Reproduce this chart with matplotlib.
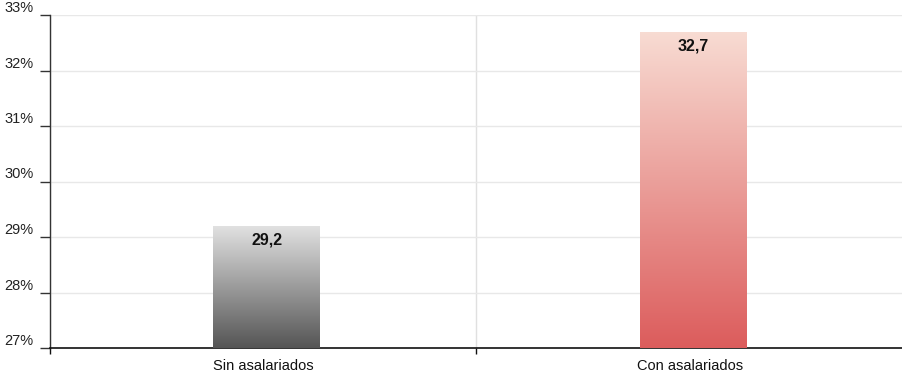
import numpy as np
import matplotlib
matplotlib.use("Agg")
import matplotlib.pyplot as plt
from matplotlib.colors import LinearSegmentedColormap

categories = ["Sin asalariados", "Con asalariados"]
values = [29.2, 32.7]
value_labels = ["29,2", "32,7"]
y_ticks = [27, 28, 29, 30, 31, 32, 33]
y_tick_labels = ["27%", "28%", "29%", "30%", "31%", "32%", "33%"]

# gradient colours per bar: (bottom, top)
gradients = [("#555555", "#e2e2e2"), ("#dc5c5c", "#f8dcd3")]

plt.rcParams["font.family"] = ["Liberation Sans", "DejaVu Sans"]

fig = plt.figure(figsize=(9.03, 3.81), dpi=100)
ax = fig.add_axes([50 / 903, 33 / 381, 853 / 903, 333 / 381])

ymin, ymax = y_ticks[0], y_ticks[-1]
ax.set_ylim(ymin, ymax)
ax.set_xlim(-0.5, len(categories) - 0.5)

bar_width = 0.25
x = np.arange(len(categories))
bars = ax.bar(x + 0.008, np.array(values) - ymin, bottom=ymin, width=bar_width,
              color="none", edgecolor="none", zorder=3)

for bar, (c_bot, c_top), lab in zip(bars, gradients, value_labels):
    x0 = bar.get_x()
    x1 = x0 + bar.get_width()
    y0 = bar.get_y()
    y1 = y0 + bar.get_height()
    cmap = LinearSegmentedColormap.from_list("g", [c_bot, c_top])
    grad = np.linspace(0, 1, 256).reshape(-1, 1)
    im = ax.imshow(grad, cmap=cmap, origin="lower", aspect="auto",
                   extent=(x0, x1, y0, y1), zorder=3)
    im.set_clip_path(bar)
    ax.annotate(lab, xy=(bar.get_x() + bar.get_width() / 2, y1),
                xytext=(0, -10), textcoords="offset points",
                ha="center", va="center", fontsize=11.5, fontweight="bold",
                family=["Liberation Sans Narrow", "Liberation Sans", "DejaVu Sans"],
                color="#111111", zorder=5)

ax.set_xlim(-0.5, len(categories) - 0.5)
ax.set_ylim(ymin, ymax)

ax.set_yticks(y_ticks)
ax.set_yticklabels(y_tick_labels, fontsize=10.5, color="#222222")
for t in ax.get_yticklabels():
    t.set_va("bottom")
ax.tick_params(axis="y", length=7, width=1, color="#333333", pad=5)

ax.set_xticks(x)
ax.set_xticklabels(categories, fontsize=10.5, color="#111111")
ax.tick_params(axis="x", length=0, pad=8)
# boundary ticks between categories
ax.set_xticks([-0.5, 0.5], minor=True)
ax.tick_params(axis="x", which="minor", length=4, width=1, color="#111111")

ax.grid(axis="y", color="#e8e8e8", linewidth=1, zorder=0)
ax.grid(axis="x", which="minor", color="#e0e0e0", linewidth=1, zorder=0)
ax.grid(axis="x", which="major", visible=False)
ax.set_axisbelow(True)

for s in ["top", "right"]:
    ax.spines[s].set_visible(False)
ax.spines["left"].set_color("#333333")
ax.spines["left"].set_linewidth(1)
ax.spines["bottom"].set_color("#111111")
ax.spines["bottom"].set_linewidth(1.2)

fig.savefig("out.png", dpi=100)
